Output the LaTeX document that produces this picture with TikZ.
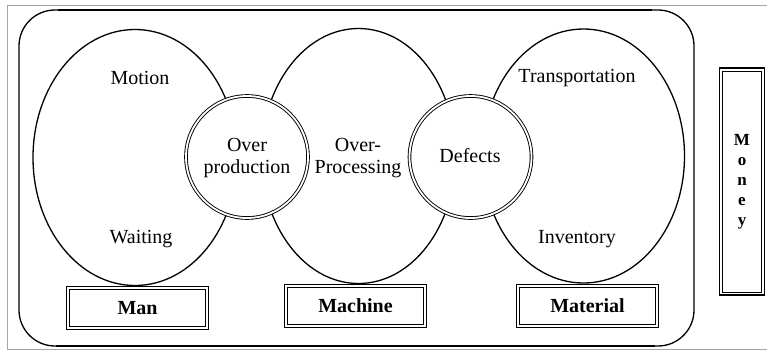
\documentclass[tikz,border=0pt]{standalone}
\usepackage{fontspec}
\setmainfont{Liberation Serif}
\usetikzlibrary{shapes.geometric}
\begin{document}
\begin{tikzpicture}[x=1pt,y=-1pt,
 lbl/.style={font=\fontsize{20}{22}\selectfont, align=center, inner sep=0pt},
 ell/.style={draw, ellipse, line width=1.3pt, inner sep=0pt},
 circ/.style={draw, fill=white, double=white, double distance=1.8pt, line width=0.9pt, circle, minimum size=122pt, inner sep=0pt},
 box/.style={draw, fill=white, line width=1.1pt, minimum width=142pt, minimum height=43pt, inner sep=0pt, font=\bfseries\fontsize{20}{22}\selectfont},
 inner/.style={draw, line width=0.9pt}]
\useasboundingbox (0,0) rectangle (767,351);
% thin image frame
\draw[gray!70, line width=0.8pt] (7,5) -- (780,5) (7,5) -- (7,349) -- (780,349);
% big rounded container
\draw[line width=1.3pt, rounded corners=36pt] (19,10) rectangle (694,346);
\draw[line width=2.6pt] (58,10) -- (652,10);
\draw[line width=2.6pt] (56,346) -- (655,346);
% ellipses
\node[ell, minimum width=204pt, minimum height=256pt] (lefte) at (135,157.5) {};
\node[ell, minimum width=194pt, minimum height=255pt] (mide) at (358.5,156) {};
\node[ell, minimum width=202pt, minimum height=254pt] (righte) at (583.5,156) {};
% small circles
\node[circ] (overprod) at (247,157) {};
\node[circ] (defects) at (470.5,157) {};
% texts
\node[lbl] (motion) at (140,78) {Motion};
\node[lbl] (waiting) at (141,239) {Waiting};
\node[lbl] (optext) at (247,158) {Over\\production};
\node[lbl] (proctext) at (358,158) {Over-\\Processing};
\node[lbl] (deftext) at (470,156) {Defects};
\node[lbl] (transp) at (577,78) {Transportation};
\node[lbl] (invent) at (577,239) {Inventory};
% boxes
\node[box] (man) at (137.5,308) {Man};
\node[box] (machine) at (355.5,306) {Machine};
\node[box] (material) at (587.5,306) {Material};
\node[box, minimum width=45pt, minimum height=227pt, align=center, font=\bfseries\fontsize{17}{20}\selectfont] (money) at (742,181.5) {M\\o\\n\\e\\y};
\foreach \n in {man,machine,material,money}
  \draw[inner] ([shift={(3.5,3.5)}]\n.north west) rectangle ([shift={(-3.5,-3.5)}]\n.south east);
\end{tikzpicture}
\end{document}
